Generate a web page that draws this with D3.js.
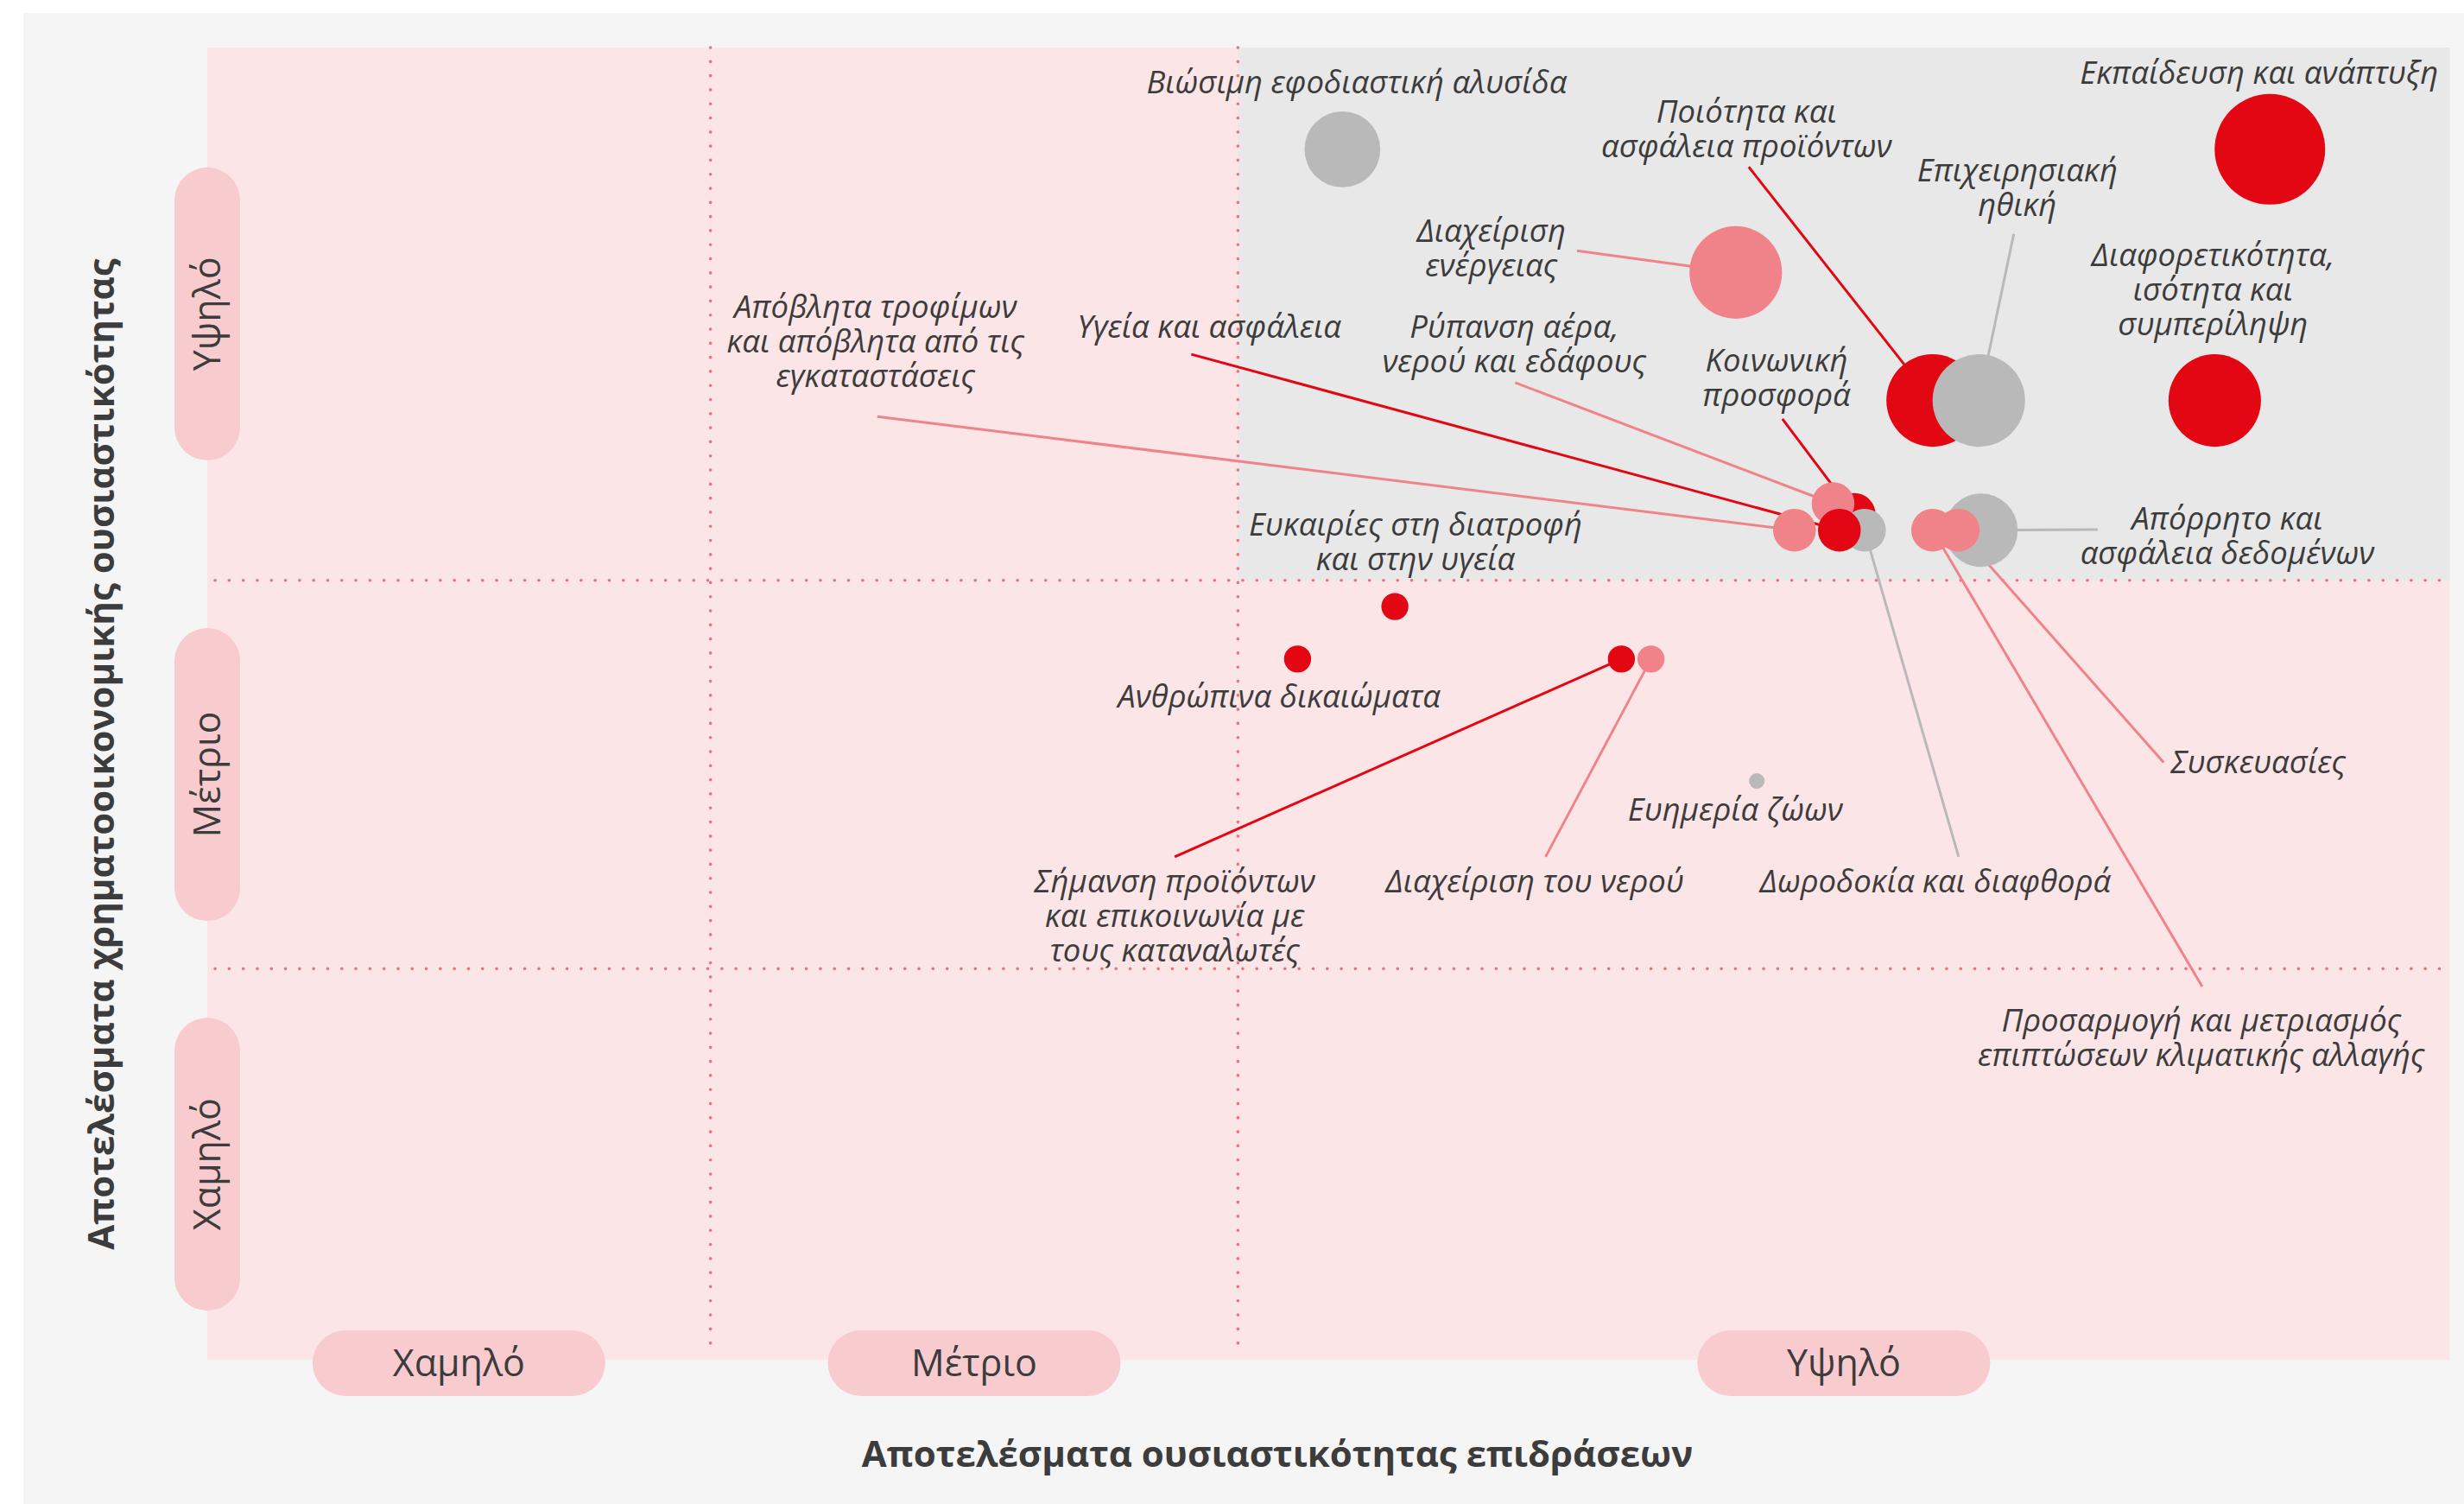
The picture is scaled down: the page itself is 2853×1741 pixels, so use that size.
<!DOCTYPE html>
<html>
<head>
<meta charset="utf-8">
<script src="https://cdn.jsdelivr.net/npm/d3@7"></script>
<style>
  html, body { margin: 0; padding: 0; background: #ffffff; }
  svg { display: block; }
  text { font-family: "Open Sans", sans-serif; fill: #3c3c3c; }
</style>
</head>
<body>
<svg id="chart" width="2853" height="1741"></svg>
<script>
// Materiality matrix - impact (x) vs financial (y)

// level labels for both axes
var levelLabels = ["Χαμηλό", "Μέτριο", "Υψηλό"];
// band thresholds (score units, scale runs 0..5)
var xThresholds = [1.122, 2.298];
var yThresholds = [1.49, 2.97];

var xTitle = "Αποτελέσματα ουσιαστικότητας επιδράσεων";
var yTitle = "Αποτελέσματα χρηματοοικονομικής ουσιαστικότητας";

// topics, listed in drawing order (back to front)
var topics = [
  "Βιώσιμη εφοδιαστική αλυσίδα",
  "Εκπαίδευση και ανάπτυξη",
  "Διαχείριση ενέργειας",
  "Ποιότητα και ασφάλεια προϊόντων",
  "Επιχειρησιακή ηθική",
  "Διαφορετικότητα, ισότητα και συμπερίληψη",
  "Κοινωνική προσφορά",
  "Ρύπανση αέρα, νερού και εδάφους",
  "Δωροδοκία και διαφθορά",
  "Απόβλητα τροφίμων και απόβλητα από τις εγκαταστάσεις",
  "Υγεία και ασφάλεια",
  "Απόρρητο και ασφάλεια δεδομένων",
  "Προσαρμογή και μετριασμός επιπτώσεων κλιματικής αλλαγής",
  "Συσκευασίες",
  "Ευκαιρίες στη διατροφή και στην υγεία",
  "Ανθρώπινα δικαιώματα",
  "Σήμανση προϊόντων και επικοινωνία με τους καταναλωτές",
  "Διαχείριση του νερού",
  "Ευημερία ζώων"
];
// impact score
var impactScore = [2.531, 4.599, 3.408, 3.847, 3.950, 4.476, 3.672, 3.625, 3.695, 3.539,
  3.639, 3.955, 3.847, 3.904, 2.648, 2.431, 3.153, 3.219, 3.455];
// financial score
var financialScore = [4.612, 4.612, 4.143, 3.655, 3.655, 3.655, 3.221, 3.262, 3.161, 3.161,
  3.161, 3.161, 3.161, 3.161, 2.870, 2.670, 2.670, 2.670, 2.205];
// bubble weight
var weight = [47, 100, 70, 70, 70, 70, 15, 15, 15, 15, 15, 44, 15, 15, 6, 6, 6, 6, 2];
// pillar: E = environment, S = social, G = governance
var pillar = ["G", "S", "E", "S", "G", "S", "S", "E", "G", "E", "S", "G", "E", "E", "S", "S", "S", "E", "G"];

// label text lines
var labelLines = [
  ["Βιώσιμη εφοδιαστική αλυσίδα"],
  ["Εκπαίδευση και ανάπτυξη"],
  ["Διαχείριση", "ενέργειας"],
  ["Ποιότητα και", "ασφάλεια προϊόντων"],
  ["Επιχειρησιακή", "ηθική"],
  ["Διαφορετικότητα,", "ισότητα και", "συμπερίληψη"],
  ["Κοινωνική", "προσφορά"],
  ["Ρύπανση αέρα,", "νερού και εδάφους"],
  ["Δωροδοκία και διαφθορά"],
  ["Απόβλητα τροφίμων", "και απόβλητα από τις", "εγκαταστάσεις"],
  ["Υγεία και ασφάλεια"],
  ["Απόρρητο και", "ασφάλεια δεδομένων"],
  ["Προσαρμογή και μετριασμός", "επιπτώσεων κλιματικής αλλαγής"],
  ["Συσκευασίες"],
  ["Ευκαιρίες στη διατροφή", "και στην υγεία"],
  ["Ανθρώπινα δικαιώματα"],
  ["Σήμανση προϊόντων", "και επικοινωνία με", "τους καταναλωτές"],
  ["Διαχείριση του νερού"],
  ["Ευημερία ζώων"]
];
// label anchor (score units, first baseline)
var labelX = [2.563, 4.575, 2.863, 3.432, 4.036, 4.472, 3.499, 2.914, 3.853, 1.490,
  2.234, 4.504, 4.446, 4.573, 2.694, 2.390, 2.157, 2.960, 3.407];
var labelY = [4.826, 4.862, 4.259, 4.714, 4.490, 4.167, 3.767, 3.895, 1.781, 3.970,
  3.895, 3.163, 1.251, 2.235, 3.140, 2.485, 1.781, 1.781, 2.054];
// leader line start (score units), null = no leader
var leaderX = [null, null, 3.054, 3.437, 4.028, null, 3.512, 2.916, 3.905, 1.494,
  2.194, 4.215, 4.448, 4.362, null, null, 2.157, 2.984, null];
var leaderY = [null, null, 4.226, 4.545, 4.290, null, 3.585, 3.723, 1.916, 3.594,
  3.831, 3.163, 1.422, 2.276, null, null, 1.916, 1.916, null];

var pillarColor = { E: "#f0838a", S: "#e30613", G: "#b9b9b9" };

var svg = d3.select("#chart");
var W = 2853, H = 1741;
var plot = { left: 240, right: 2836.5, top: 55, bottom: 1574 };

var x = d3.scaleLinear().domain([0, 5]).range([plot.left, plot.right]);
var y = d3.scaleLinear().domain([0, 5]).range([plot.bottom, plot.top]);
var r = d3.scaleSqrt().domain([0, 100]).range([0, 64]);

// background panel
svg.append("rect").attr("x", 27).attr("y", 15).attr("width", W - 27).attr("height", H - 15)
  .attr("fill", "#f5f5f5");

// plot area
svg.append("rect").attr("x", x(0)).attr("y", y(5))
  .attr("width", x(5) - x(0)).attr("height", y(0) - y(5))
  .attr("fill", "#fce5e7");

// highlighted quadrant (high / high)
svg.append("rect").attr("x", x(xThresholds[1])).attr("y", y(5))
  .attr("width", x(5) - x(xThresholds[1])).attr("height", y(yThresholds[1]) - y(5))
  .attr("fill", "#e8e8e8");

// dotted band separators
var dots = svg.append("g").attr("stroke", "#f0717c").attr("stroke-width", 3.6)
  .attr("stroke-linecap", "round").attr("stroke-dasharray", "0.1 16.2");
xThresholds.forEach(function(t) {
  dots.append("line").attr("x1", x(t)).attr("x2", x(t)).attr("y1", y(5)).attr("y2", y(0) - 4);
});
yThresholds.forEach(function(t) {
  dots.append("line").attr("x1", x(0) + 9).attr("x2", x(5)).attr("y1", y(t)).attr("y2", y(t));
});

// level pills
var xEdges = [0].concat(xThresholds).concat([5]);
var yEdges = [0].concat(yThresholds).concat([5]);
var pillLong = 339, pillShort = 76;

levelLabels.forEach(function(lbl, i) {
  var cx = (x(xEdges[i]) + x(xEdges[i + 1])) / 2;
  var cy = y(0) + 4;
  svg.append("rect").attr("x", cx - pillLong / 2).attr("y", cy - pillShort / 2)
    .attr("width", pillLong).attr("height", pillShort)
    .attr("rx", pillShort / 2).attr("ry", pillShort / 2).attr("fill", "#f8cbcf");
  svg.append("text").attr("x", cx).attr("y", cy + 15)
    .attr("text-anchor", "middle").attr("font-size", 43).text(lbl);
});

levelLabels.forEach(function(lbl, i) {
  var cy = (y(yEdges[i]) + y(yEdges[i + 1])) / 2;
  var cx = x(0);
  svg.append("rect").attr("x", cx - pillShort / 2).attr("y", cy - pillLong / 2)
    .attr("width", pillShort).attr("height", pillLong)
    .attr("rx", pillShort / 2).attr("ry", pillShort / 2).attr("fill", "#f8cbcf");
  svg.append("text").attr("transform", "translate(" + (cx + 15) + "," + cy + ") rotate(-90)")
    .attr("text-anchor", "middle").attr("font-size", 43).text(lbl);
});

// axis titles
svg.append("text").attr("x", 1479).attr("y", 1698)
  .attr("text-anchor", "middle").attr("font-size", 42).attr("font-weight", 700).text(xTitle);
svg.append("text").attr("transform", "translate(132,873) rotate(-90)")
  .attr("text-anchor", "middle").attr("font-size", 42).attr("font-weight", 700).text(yTitle);

// leader lines
var idx = d3.range(topics.length);
svg.append("g").selectAll("line")
  .data(idx.filter(function(i) { return leaderX[i] !== null; }))
  .join("line")
  .attr("x1", function(i) { return x(leaderX[i]); })
  .attr("y1", function(i) { return y(leaderY[i]); })
  .attr("x2", function(i) { return x(impactScore[i]); })
  .attr("y2", function(i) { return y(financialScore[i]); })
  .attr("stroke", function(i) { return pillarColor[pillar[i]]; })
  .attr("stroke-width", 3);

// bubbles
svg.append("g").selectAll("circle")
  .data(idx)
  .join("circle")
  .attr("cx", function(i) { return x(impactScore[i]); })
  .attr("cy", function(i) { return y(financialScore[i]); })
  .attr("r", function(i) { return r(weight[i]); })
  .attr("fill", function(i) { return pillarColor[pillar[i]]; });

// labels
var labels = svg.append("g").attr("font-size", 36.5).attr("font-style", "italic");
idx.forEach(function(i) {
  var t = labels.append("text").attr("text-anchor", "middle")
    .attr("x", x(labelX[i])).attr("y", y(labelY[i]));
  labelLines[i].forEach(function(line, k) {
    t.append("tspan").attr("x", x(labelX[i])).attr("dy", k === 0 ? 0 : 40).text(line);
  });
});
</script>
</body>
</html>
